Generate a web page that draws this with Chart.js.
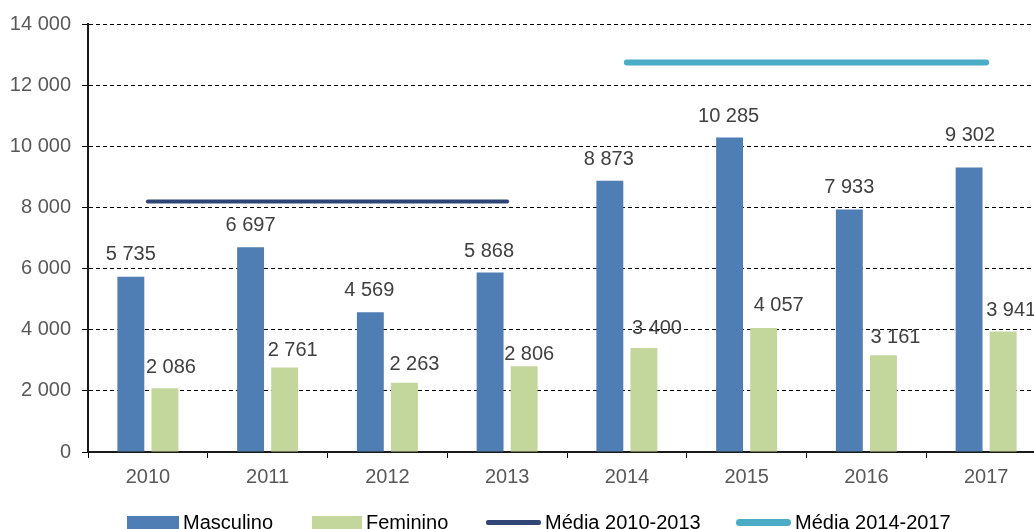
<!DOCTYPE html>
<html>
<head>
<meta charset="utf-8">
<script src="https://cdn.jsdelivr.net/npm/chart.js@4"></script>
<style>
  html, body { margin: 0; padding: 0; background: #fff; overflow: hidden; width: 1034px; height: 529px; }
  #wrap { position: relative; width: 1060px; height: 529px; }
  #legend { position: absolute; left: 0; top: 0; width: 1034px; height: 529px; pointer-events: none;
            font: 20px "Liberation Sans", Arial, sans-serif; color: #000; }
  .li { position: absolute; top: 511px; height: 22px; display: flex; align-items: center; white-space: nowrap; }
  .sw { display: inline-block; margin-right: 4px; }
</style>
</head>
<body>
<div id="wrap">
  <canvas id="chart" width="1060" height="529"></canvas>
  <div id="legend"></div>
</div>
<script>
const FONT = '"Liberation Sans", Arial, sans-serif';

// values
const years = ['2010', '2011', '2012', '2013', '2014', '2015', '2016', '2017'];
const masculino = [5735, 6697, 4569, 5868, 8873, 10285, 7933, 9302];
const feminino = [2086, 2761, 2263, 2806, 3400, 4057, 3161, 3941];
const media2010_2013 = [8196, 8196, 8196, 8196, null, null, null, null];
const media2014_2017 = [null, null, null, null, 12738, 12738, 12738, 12738];

const COL_M = '#4F7EB5', COL_F = '#C3D69B', COL_A = '#2F4677', COL_B = '#4BACC6';

const fmt = v => String(v).replace(/\B(?=(\d{3})+(?!\d))/g, ' ');

// value labels above the bars (the source labels were hand-placed, so each has its own nudge)
const barLabels = {
  id: 'barLabels',
  afterDatasetsDraw(chart) {
    const ctx = chart.ctx;
    ctx.save();
    ctx.font = '20px ' + FONT;
    ctx.fillStyle = '#404040';
    ctx.textAlign = 'center';
    ctx.textBaseline = 'alphabetic';
    chart.data.datasets.forEach((ds, i) => {
      if (ds.type !== 'bar') return;
      chart.getDatasetMeta(i).data.forEach((bar, j) => {
        ctx.fillText(fmt(ds.data[j]), bar.x + ds.labelDx[j], bar.y - ds.labelDy[j]);
      });
    });
    ctx.restore();
  }
};

new Chart(document.getElementById('chart'), {
  data: {
    labels: years,
    datasets: [
      { type: 'line', label: 'Média 2010-2013', data: media2010_2013, borderColor: COL_A, borderWidth: 4,
        borderCapStyle: 'round', pointRadius: 0, spanGaps: false, order: 0 },
      { type: 'line', label: 'Média 2014-2017', data: media2014_2017, borderColor: COL_B, borderWidth: 6,
        borderCapStyle: 'round', pointRadius: 0, spanGaps: false, order: 0 },
      { type: 'bar', label: 'Masculino', data: masculino, backgroundColor: COL_M, borderWidth: 0,
        categoryPercentage: 0.569, barPercentage: 0.79, order: 1,
        labelDx: [0, 0, -1, -1, -1, -1, 0, 1],
        labelDy: [17, 16, 16, 16, 16, 16, 16, 27] },
      { type: 'bar', label: 'Feminino', data: feminino, backgroundColor: COL_F, borderWidth: 0,
        categoryPercentage: 0.569, barPercentage: 0.79, order: 1,
        labelDx: [6, 8, 10, 5, 13, 15, 12, 8],
        labelDy: [15, 12, 13, 6, 14, 17, 12, 16] }
    ]
  },
  options: {
    responsive: false,
    animation: false,
    layout: { padding: { left: 0, top: 24, right: 14, bottom: 37 } },
    plugins: { legend: { display: false }, tooltip: { enabled: false } },
    scales: {
      x: {
        grid: { offset: true, drawOnChartArea: false, drawTicks: true, tickLength: 6, color: '#000', tickWidth: 1 },
        border: { color: '#1a1a1a', width: 2 },
        ticks: { color: '#595959', font: { size: 20, family: FONT }, padding: 7 },
        afterFit(s) { s.height = 40; }
      },
      y: {
        min: 0, max: 14000,
        ticks: { stepSize: 2000, callback: v => fmt(v), color: '#595959', font: { size: 20, family: FONT }, padding: 11 },
        grid: { color: '#000', lineWidth: 1, tickLength: 6, tickBorderDash: [] },
        border: { dash: [4, 3], color: '#1a1a1a', width: 2 },
        afterFit(s) { s.width = 88; }
      }
    }
  },
  plugins: [barLabels]
});

// legend (HTML, real text)
const legendItems = [
  { text: 'Masculino', left: 127, w: 52, h: 13, color: COL_M, r: 0 },
  { text: 'Feminino', left: 312, w: 50, h: 13, color: COL_F, r: 0 },
  { text: 'Média 2010-2013', left: 486, w: 55, h: 5, color: COL_A, r: 2 },
  { text: 'Média 2014-2017', left: 736, w: 55, h: 7, color: COL_B, r: 4 }
];
document.getElementById('legend').innerHTML = legendItems.map(it =>
  `<div class="li" style="left:${it.left}px"><span class="sw" style="width:${it.w}px;height:${it.h}px;background:${it.color};border-radius:${it.r}px"></span>${it.text}</div>`
).join('');
</script>
</body>
</html>
